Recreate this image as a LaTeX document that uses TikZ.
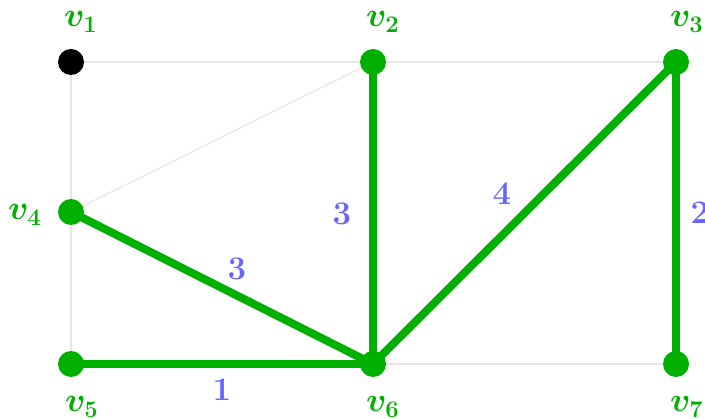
\documentclass[tikz,border=0pt]{standalone}
\usepackage{fix-cm}
\usepackage{amsmath,bm}
\usetikzlibrary{backgrounds}
\definecolor{tgreen}{RGB}{0,176,0}
\definecolor{tblue}{RGB}{102,102,255}
\definecolor{tgray}{RGB}{230,230,230}
\begin{document}
\begin{tikzpicture}[x=1pt,y=-1pt,
  vert/.style={circle,fill=tgreen,inner sep=0pt,minimum size=26pt},
  vlab/.style={text=tgreen,font=\fontsize{34}{38}\selectfont,inner sep=0pt,anchor=base west},
  wlab/.style={text=tblue,font=\fontsize{33}{38}\selectfont\bfseries,inner sep=0pt},
  light/.style={draw=tgray,line width=1.2pt},
  tree/.style={draw=tgreen,line width=8pt}]
\useasboundingbox (0,0) rectangle (705,419);
\node[vert,fill=black] (v1) at (71,62) {};
\node[vert] (v2) at (373,62) {};
\node[vert] (v3) at (676,62) {};
\node[vert] (v4) at (71,212) {};
\node[vert] (v5) at (71,364) {};
\node[vert] (v6) at (373,364) {};
\node[vert] (v7) at (676,364) {};
\begin{scope}[on background layer]
\draw[light] (v1.center) -- (v2.center);
\draw[light] (v2.center) -- (v3.center);
\draw[light] (v1.center) -- (v4.center);
\draw[light] (v4.center) -- (v5.center);
\draw[light] (v4.center) -- (v2.center);
\draw[light] (v6.center) -- (v7.center);
\draw[tree] (v4.center) -- (v6.center);
\draw[tree] (v5.center) -- (v6.center);
\draw[tree] (v2.center) -- (v6.center);
\draw[tree] (v3.center) -- (v6.center);
\draw[tree] (v3.center) -- (v7.center);
\end{scope}
\node[vlab] (l1) at (64,27) {$\bm{v_1}$};
\node[vlab] (l2) at (366,27) {$\bm{v_2}$};
\node[vlab] (l3) at (670,27) {$\bm{v_3}$};
\node[vlab] (l4) at (8,220) {$\bm{v_4}$};
\node[vlab] (l5) at (65,412) {$\bm{v_5}$};
\node[vlab] (l6) at (366,412) {$\bm{v_6}$};
\node[vlab] (l7) at (670,412) {$\bm{v_7}$};
\node[wlab] (w46) at (237,269) {3};
\node[wlab] (w56) at (222,390) {1};
\node[wlab] (w26) at (342,214) {3};
\node[wlab] (w36) at (502,194) {4};
\node[wlab] (w37) at (700,213) {2};
\end{tikzpicture}
\end{document}
